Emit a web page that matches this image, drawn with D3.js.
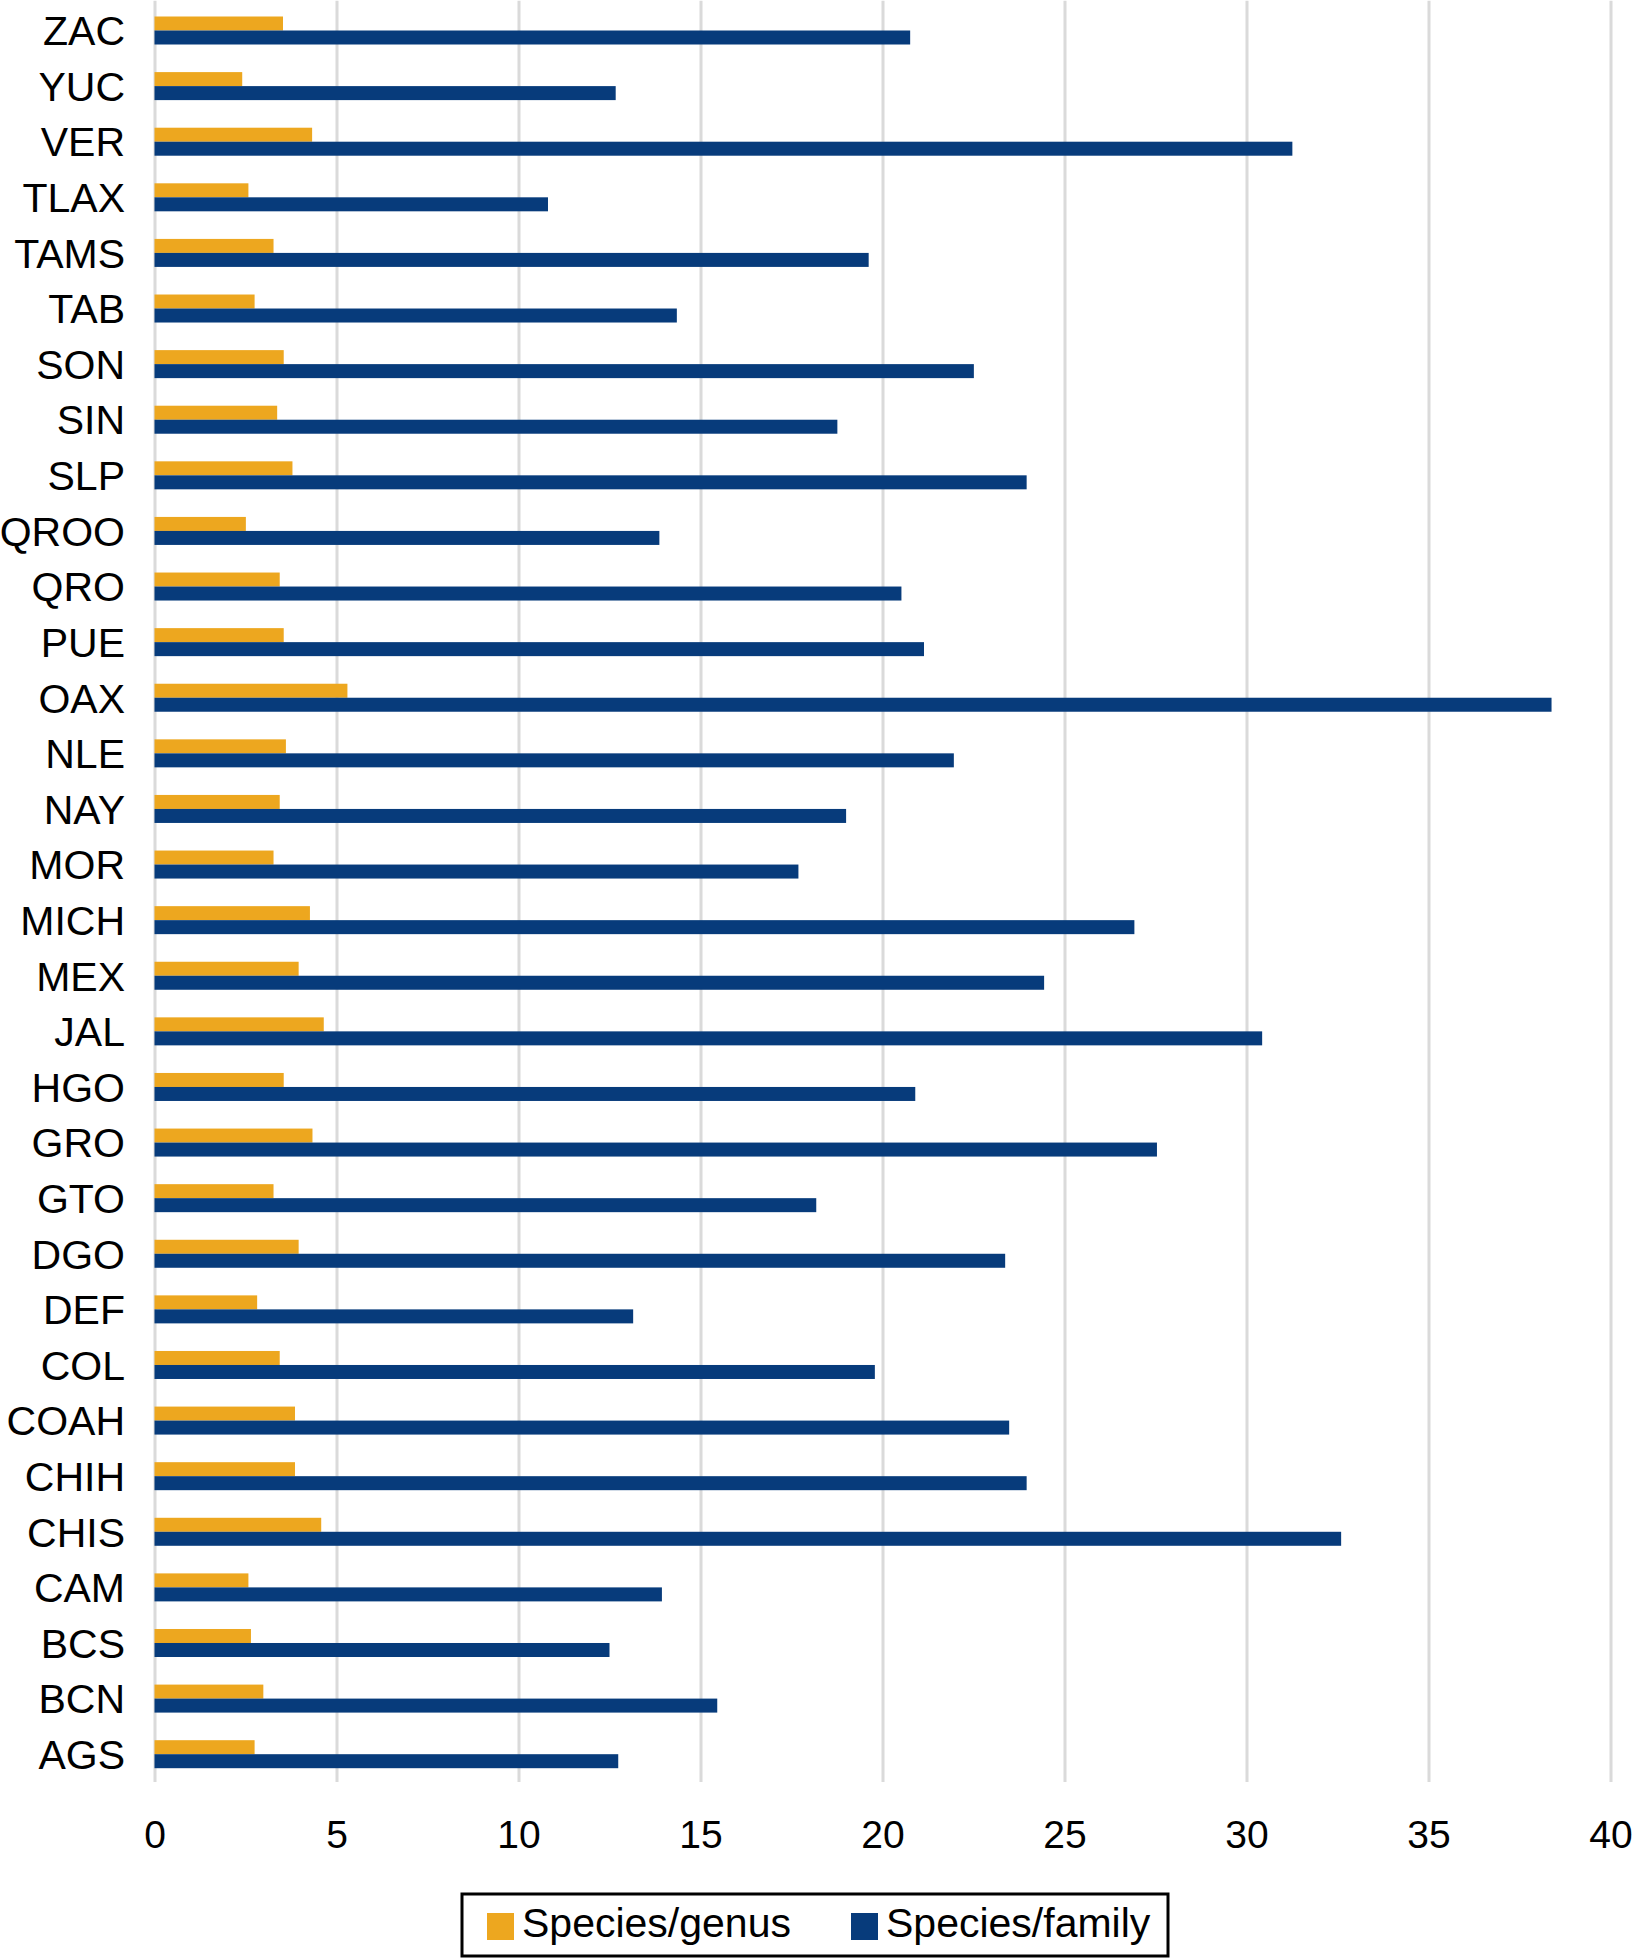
<!DOCTYPE html>
<html>
<head>
<meta charset="utf-8">
<script src="https://cdn.jsdelivr.net/npm/d3@7"></script>
<style>
  body { margin: 0; background: #fff; }
  svg { display: block; font-family: "Liberation Sans", Arial, sans-serif; }
</style>
</head>
<body>
<div id="chart"></div>
<script>
// states, top to bottom as drawn
var states = ["ZAC", "YUC", "VER", "TLAX", "TAMS", "TAB", "SON", "SIN", "SLP", "QROO",
    "QRO", "PUE", "OAX", "NLE", "NAY", "MOR", "MICH", "MEX", "JAL", "HGO",
    "GRO", "GTO", "DGO", "DEF", "COL", "COAH", "CHIH", "CHIS", "CAM", "BCS",
    "BCN", "AGS"];

var speciesGenus = [3.53, 2.41, 4.33, 2.58, 3.27, 2.75, 3.55, 3.37, 3.79, 2.51,
    3.44, 3.55, 5.3, 3.61, 3.44, 3.27, 4.27, 3.96, 4.65, 3.55,
    4.34, 3.27, 3.96, 2.82, 3.44, 3.86, 3.86, 4.58, 2.58, 2.65,
    2.99, 2.75];

var speciesFamily = [20.76, 12.67, 31.26, 10.81, 19.62, 14.35, 22.51, 18.76, 23.96, 13.87,
    20.52, 21.14, 38.38, 21.96, 19.0, 17.69, 26.92, 24.44, 30.43, 20.9,
    27.54, 18.18, 23.37, 13.15, 19.79, 23.48, 23.96, 32.6, 13.94, 12.5,
    15.46, 12.74];

var seriesNames = ["Species/genus", "Species/family"];
var xTicks = [0, 5, 10, 15, 20, 25, 30, 35, 40];

var width = 1632;
var height = 1959;

var margin = {
    top: 2.7,
    right: 21.5,
    bottom: 177,
    left: 154.5
}

var boundedWidth = width - margin.left - margin.right;
var boundedHeight = height - margin.top - margin.bottom;

var colorScale = d3.scaleOrdinal()
    .domain(seriesNames)
    .range(["#EDA71F", "#073B7B"]);

var data = states.map(function(s, i) {
    return { state: s, values: [speciesGenus[i], speciesFamily[i]] };
});

var svg = d3.select("#chart").append("svg")
    .attr("width", width)
    .attr("height", height);

var bounds = svg.append("g")
    .attr("transform", `translate(${margin.left}, ${margin.top})`);

var xScale = d3.scaleLinear()
    .domain([0, 40])
    .range([0, boundedWidth]);

var yScale = d3.scaleBand()
    .domain(states)
    .range([0, boundedHeight]);

var barH = 14;
var ySeries = d3.scaleBand()
    .domain(seriesNames)
    .range([yScale.bandwidth() / 2 - barH, yScale.bandwidth() / 2 + barH]);

// grid lines
var grid = bounds.append("g")
    .attr("transform", `translate(0, ${boundedHeight})`)
    .call(d3.axisBottom(xScale).tickValues(xTicks).tickSize(-boundedHeight - 2).tickFormat(""));
grid.select(".domain").remove();
grid.selectAll("line")
    .attr("stroke", "#DADADA")
    .attr("stroke-width", 3);

// bars
var groups = bounds.selectAll(".stateG")
    .data(data).enter()
    .append("g")
    .attr("class", "stateG")
    .attr("transform", d => `translate(0, ${yScale(d.state)})`);

groups.selectAll("rect")
    .data(d => d.values.map((v, i) => ({ key: seriesNames[i], value: v })))
    .enter()
    .append("rect")
    .attr("x", xScale(0))
    .attr("y", d => ySeries(d.key))
    .attr("width", d => xScale(d.value) - xScale(0))
    .attr("height", ySeries.bandwidth())
    .attr("fill", d => colorScale(d.key));

// category labels
var yAxis = bounds.append("g")
    .call(d3.axisLeft(yScale).tickSize(0).tickPadding(29.5));
yAxis.select(".domain").remove();
yAxis.selectAll("text")
    .attr("font-size", 41)
    .attr("font-family", "Liberation Sans, Arial, sans-serif")
    .attr("fill", "#000")
    .attr("dy", "0.36em");

// x tick labels
var xAxis = bounds.append("g")
    .attr("transform", `translate(0, ${boundedHeight})`)
    .call(d3.axisBottom(xScale).tickValues(xTicks).tickSize(0));
xAxis.select(".domain").remove();
xAxis.selectAll("text")
    .attr("y", 52)
    .attr("dy", "0.36em")
    .attr("font-size", 39)
    .attr("font-family", "Liberation Sans, Arial, sans-serif")
    .attr("fill", "#000");

// legend
var legend = svg.append("g");

legend.append("rect")
    .attr("x", 462)
    .attr("y", 1894)
    .attr("width", 706)
    .attr("height", 62)
    .attr("fill", "#fff")
    .attr("stroke", "#000")
    .attr("stroke-width", 3);

var legendX = [487, 851];
var legendItems = legend.selectAll(".legendItem")
    .data(seriesNames).enter()
    .append("g")
    .attr("class", "legendItem")
    .attr("transform", (d, i) => `translate(${legendX[i]}, 1913)`);

legendItems.append("rect")
    .attr("width", 27)
    .attr("height", 27)
    .attr("fill", d => colorScale(d));

legendItems.append("text")
    .attr("x", 35)
    .attr("y", 9)
    .attr("dy", "0.36em")
    .attr("font-size", 41)
    .attr("fill", "#000")
    .text(d => d);
</script>
</body>
</html>
